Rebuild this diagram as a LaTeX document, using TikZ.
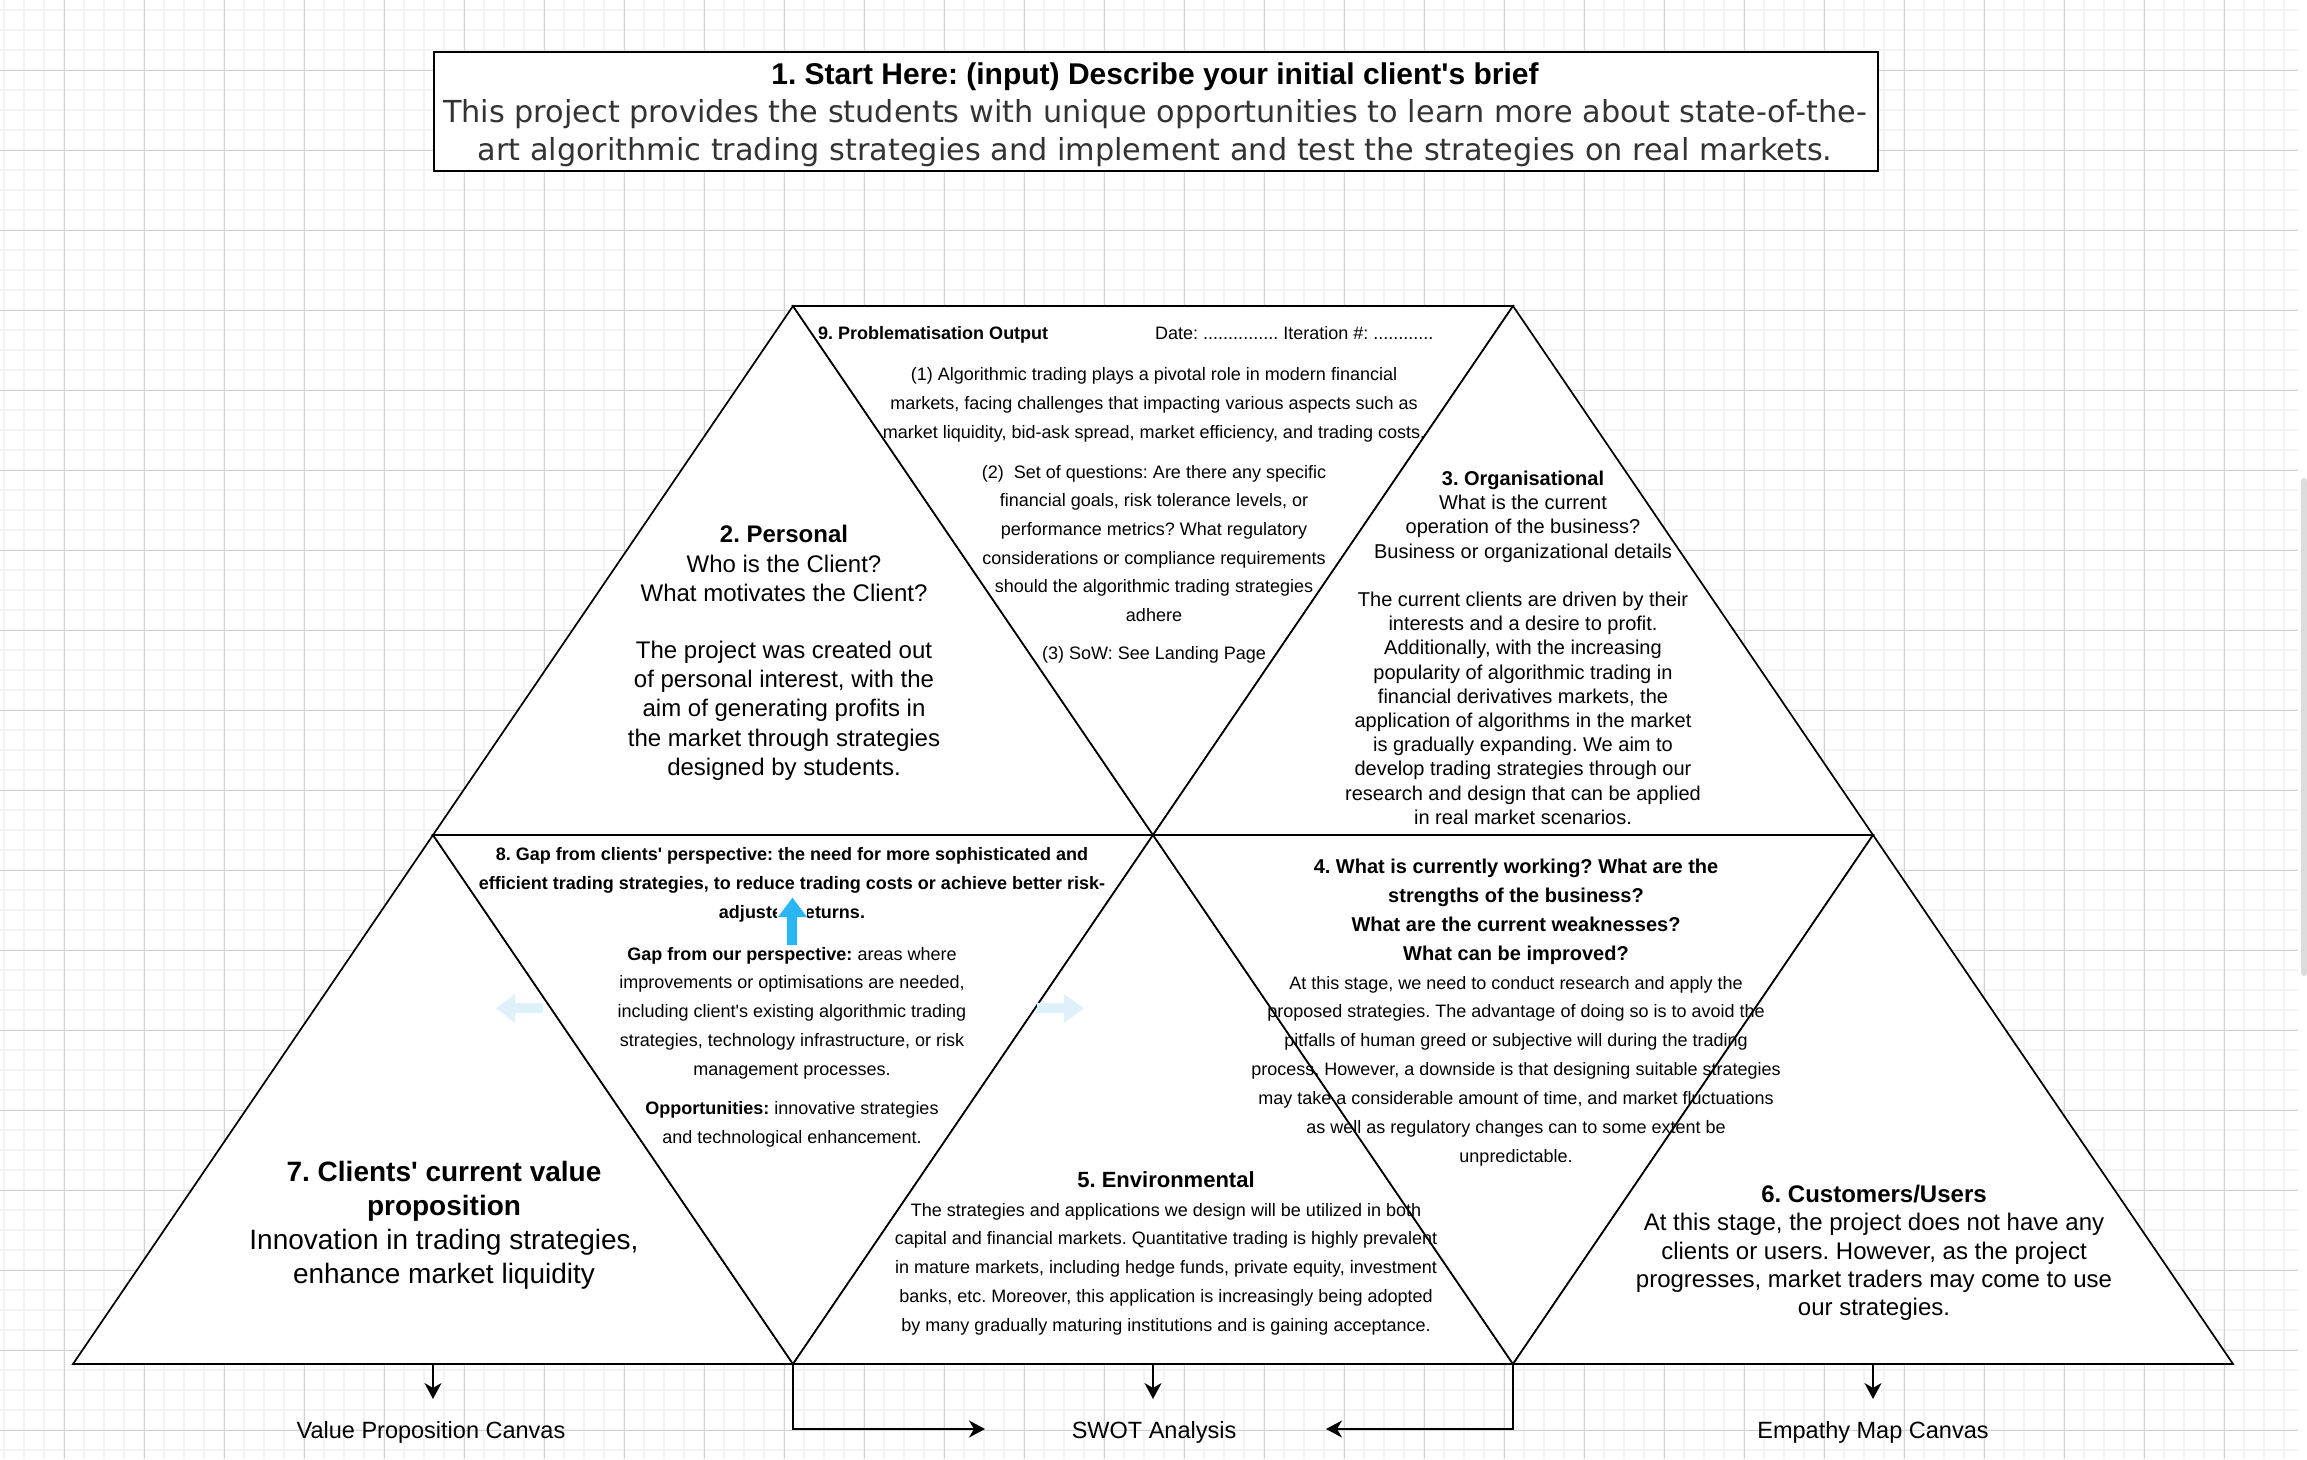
\documentclass[tikz,border=0pt]{standalone}
\usepackage{fontspec}
\setmainfont{Liberation Sans}
\newfontfamily\dejavu{DejaVu Sans}
\usetikzlibrary{arrows.meta}
\definecolor{minorgrid}{RGB}{243,243,243}
\definecolor{majorgrid}{RGB}{210,210,210}
\definecolor{arrowblue}{RGB}{41,182,242}
\definecolor{paleblue}{RGB}{222,241,251}
\definecolor{titlegrey}{RGB}{51,51,51}
\definecolor{scrollgrey}{RGB}{220,220,220}
\newcommand\hdA[1]{{\fontsize{20}{28.9}\selectfont\bfseries #1}}
\frenchspacing
\begin{document}
\frenchspacing
\begin{tikzpicture}[x=1pt,y=-1pt,
  tri/.style={fill=white,draw=black,line width=1.7pt,line join=miter},
  txt/.style={inner sep=0pt,align=center,anchor=north},
  conn/.style={draw=black,line width=1.7pt,line join=miter,-{Stealth[length=16pt,width=17pt,inset=5pt]}},
  lbl/.style={inner sep=0pt,anchor=base,font=\fontsize{23.5}{28}\selectfont},
]
\useasboundingbox (0,0) rectangle (2307,1459);
\fill[white] (0,0) rectangle (2307,1459);
% background grid
\foreach \x in {4,24,...,2298} \draw[minorgrid,line width=1.4pt] (\x,0) -- (\x,1459);
\foreach \y in {10,30,...,1459} \draw[minorgrid,line width=1.4pt] (0,\y) -- (2298,\y);
\foreach \x in {64,144,...,2298} \draw[majorgrid,line width=1pt] (\x,0) -- (\x,1459);
\foreach \y in {70,150,...,1459} \draw[majorgrid,line width=1pt] (0,\y) -- (2298,\y);
\fill[scrollgrey,rounded corners=3pt] (2301,478) rectangle (2307,976);

% title box
\node[draw=black,line width=2pt,fill=white,minimum width=1444pt,minimum height=119pt,inner sep=0pt,anchor=north west] (brief) at (433,51) {};
\node[txt,font=\fontsize{30.3}{38.3}\selectfont] (brieftext) at (1155,53.8) {\rule{0pt}{30pt}{\fontsize{30}{38.3}\selectfont\bfseries 1. Start Here: (input) Describe your initial client\textquotesingle{}s brief}\\
{\dejavu\color{titlegrey}This project provides the students with unique opportunities to learn more about state-of-the-}\\
{\dejavu\color{titlegrey}art algorithmic trading strategies and implement and test the strategies on real markets.}};

% triangle grid vertices
\coordinate (A) at (793,306);
\coordinate (B) at (1513,306);
\coordinate (C) at (433,835);
\coordinate (D) at (1153,835);
\coordinate (E) at (1873,835);
\coordinate (F) at (73,1364);
\coordinate (G) at (793,1364);
\coordinate (H) at (1513,1364);
\coordinate (I) at (2233,1364);

\draw[tri] (C) -- (D) -- (A) -- cycle;
\draw[tri] (A) -- (B) -- (D) -- cycle;
\draw[tri] (D) -- (E) -- (B) -- cycle;
\draw[tri] (F) -- (G) -- (C) -- cycle;
\draw[tri] (C) -- (D) -- (G) -- cycle;
\draw[tri] (G) -- (H) -- (D) -- cycle;
\draw[tri] (D) -- (E) -- (H) -- cycle;
\draw[tri] (H) -- (I) -- (E) -- cycle;

% 9
\node[txt,anchor=base west,font=\fontsize{18}{28.7}\selectfont\bfseries] (t9head) at (818,339.5) {9. Problematisation Output};
\node[txt,anchor=base west,font=\fontsize{18}{28.7}\selectfont] (t9date) at (1155,339.5) {Date: ............... Iteration \#: ............};
\node[txt,font=\fontsize{18}{28.7}\selectfont] (t9body) at (1154,362.5) {\rule{0pt}{18pt}(1) Algorithmic trading plays a pivotal role in modern financial\\
markets, facing challenges that impacting various aspects such as\\
market liquidity, bid-ask spread, market efficiency, and trading costs.\\[11.3pt]
(2)~ Set of questions: Are there any specific\\
financial goals, risk tolerance levels, or\\
performance metrics? What regulatory\\
considerations or compliance requirements\\
should the algorithmic trading strategies\\
adhere\\[9.5pt]
(3) SoW: See Landing Page};

% 2
\node[txt,font=\fontsize{24}{29.2}\selectfont] (t2) at (784,518.6) {\rule{0pt}{24pt}\textbf{2. Personal}\\
Who is the Client?\\
What motivates the Client?\\[28pt]
The project was created out\\
of personal interest, with the\\
aim of generating profits in\\
the market through strategies\\
designed by students.};

% 3
\node[txt,font=\fontsize{20}{24.2}\selectfont] (t3) at (1523,465.2) {\rule{0pt}{20pt}\textbf{3. Organisational}\\
What is the current\\
operation of the business?\\
Business or organizational details\\[24.2pt]
The current clients are driven by their\\
interests and a desire to profit.\\
Additionally, with the increasing\\
popularity of algorithmic trading in\\
financial derivatives markets, the\\
application of algorithms in the market\\
is gradually expanding. We aim to\\
develop trading strategies through our\\
research and design that can be applied\\
in real market scenarios.};

% 8
\node[txt,font=\fontsize{18}{28.7}\selectfont] (t8) at (792,842.5) {\rule{0pt}{18pt}\textbf{8. Gap from clients\textquotesingle{} perspective: the need for more sophisticated and}\\
\textbf{efficient trading strategies, to reduce trading costs or achieve better risk-}\\
\textbf{adjusted returns.}\\[13.4pt]
\textbf{Gap from our perspective:} areas where\\
improvements or optimisations are needed,\\
including client\textquotesingle{}s existing algorithmic trading\\
strategies, technology infrastructure, or risk\\
management processes.\\[11pt]
\textbf{Opportunities:} innovative strategies\\
and technological enhancement.};

% 4
\node[txt,font=\fontsize{18}{28.9}\selectfont] (t4) at (1516,853.2) {\rule{0pt}{20pt}\hdA{4. What is currently working? What are the}\\
\hdA{strengths of the business?}\\
\hdA{What are the current weaknesses?}\\
\hdA{What can be improved?}\\
At this stage, we need to conduct research and apply the\\
proposed strategies. The advantage of doing so is to avoid the\\
pitfalls of human greed or subjective will during the trading\\
process. However, a downside is that designing suitable strategies\\
may take a considerable amount of time, and market fluctuations\\
as well as regulatory changes can to some extent be\\
unpredictable.};

% 5
\node[txt,font=\fontsize{18}{28.8}\selectfont] (t5) at (1166,1165) {\rule{0pt}{22pt}{\fontsize{22}{28.8}\selectfont\bfseries 5. Environmental}\\
The strategies and applications we design will be utilized in both\\
capital and financial markets. Quantitative trading is highly prevalent\\
in mature markets, including hedge funds, private equity, investment\\
banks, etc. Moreover, this application is increasingly being adopted\\
by many gradually maturing institutions and is gaining acceptance.};

% 6
\node[txt,font=\fontsize{24}{28.4}\selectfont] (t6) at (1874,1178) {\rule{0pt}{24pt}\textbf{6. Customers/Users}\\
At this stage, the project does not have any\\
clients or users. However, as the project\\
progresses, market traders may come to use\\
our strategies.};

% 7
\node[txt,font=\fontsize{28}{34}\selectfont] (t7) at (444,1152.8) {\rule{0pt}{28pt}\textbf{7. Clients\textquotesingle{} current value}\\
\textbf{proposition}\\
Innovation in trading strategies,\\
enhance market liquidity};

% blue arrow over text 8
\fill[white] (777,897) rectangle (807,918);
\fill[arrowblue] (792.5,897.7) -- (807,917) -- (797,917) -- (797,945) -- (787,945) -- (787,917) -- (778,917) -- cycle;
% faded arrows
\fill[paleblue] (496,1008.3) -- (515,994) -- (515,1003) -- (543,1003) -- (543,1013) -- (515,1013) -- (515,1023) -- cycle;
\fill[paleblue] (1084,1008.3) -- (1064,994) -- (1064,1003) -- (1037,1003) -- (1037,1013) -- (1064,1013) -- (1064,1023) -- cycle;

% labels
\node[lbl] (vpc) at (431,1438.5) {Value Proposition Canvas};
\node[lbl] (swot) at (1154,1438.5) {SWOT Analysis};
\node[lbl] (emc) at (1873,1438.5) {Empathy Map Canvas};

% connectors
\coordinate (m7) at (433,1364);
\coordinate (m5) at (1153,1364);
\coordinate (m6) at (1873,1364);
\coordinate (vpcin) at (433,1399);
\coordinate (swotin) at (1153,1399);
\coordinate (emcin) at (1873,1399);
\coordinate (swotL) at (985,1429);
\coordinate (swotR) at (1326,1429);
\draw[conn] (m7) -- (vpcin);
\draw[conn] (m5) -- (swotin);
\draw[conn] (m6) -- (emcin);
\draw[conn] (G) |- (swotL);
\draw[conn] (H) |- (swotR);
\end{tikzpicture}
\end{document}
